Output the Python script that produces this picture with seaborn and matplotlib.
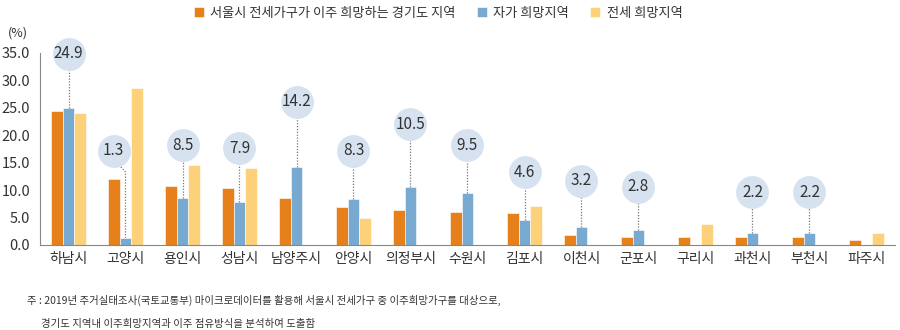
import numpy as np
import pandas as pd
import matplotlib
matplotlib.use("Agg")
import matplotlib.pyplot as plt
import seaborn as sns

# ---- data ----
cities = ["하남시", "고양시", "용인시", "성남시", "남양주시", "안양시", "의정부시", "수원시",
          "김포시", "이천시", "군포시", "구리시", "과천시", "부천시", "파주시"]
seoul_jeonse = [24.4, 12.0, 10.8, 10.4, 8.5, 7.0, 6.4, 6.0, 5.8, 1.8, 1.5, 1.4, 1.4, 1.4, 0.9]
own_wish = [24.9, 1.3, 8.5, 7.9, 14.2, 8.3, 10.5, 9.5, 4.6, 3.2, 2.8, np.nan, 2.2, 2.2, np.nan]
jeonse_wish = [24.0, 28.7, 14.6, 14.1, np.nan, 4.9, np.nan, np.nan, 7.1, np.nan, np.nan, 3.8, np.nan, np.nan, 2.2]
series_names = ["서울시 전세가구가 이주 희망하는 경기도 지역", "자가 희망지역", "전세 희망지역"]
yticks = [0, 5, 10, 15, 20, 25, 30, 35]
unit_label = "(%)"
note_lines = ["주 : 2019년 주거실태조사(국토교통부) 마이크로데이터를 활용해 서울시 전세가구 중 이주희망가구를 대상으로,",
              "경기도 지역내 이주희망지역과 이주 점유방식을 분석하여 도출함"]

# bubble label centre heights (layout, data units)
bubble_y = [34.9, 17.2, 18.2, 17.6, 26.1, 17.2, 22.0, 18.2, 13.3, 11.7, 10.6, np.nan, 9.6, 9.6, np.nan]

colors = ["#E5801A", "#78A9D0", "#FDD17A"]

sns.set_style("white")
plt.rcParams["font.family"] = ["Noto Sans CJK KR", "DejaVu Sans"]
plt.rcParams["font.weight"] = "light"

rows = []
for s_name, vals in zip(series_names, [seoul_jeonse, own_wish, jeonse_wish]):
    for c, v in zip(cities, vals):
        if not np.isnan(v):
            rows.append({"city": c, "series": s_name, "value": v})
df = pd.DataFrame(rows)

fig = plt.figure(figsize=(9, 3.3), dpi=100)
ax = fig.add_axes([40 / 900, 1 - 245 / 330, 855 / 900, 192 / 330])

sns.barplot(data=df, x="city", y="value", hue="series", order=cities, hue_order=series_names,
            palette=colors, width=0.63, saturation=1, errorbar=None, ax=ax,
            edgecolor="white", linewidth=0.4, zorder=2)

ax.set_ylim(0, 35)
ax.set_xlim(-0.5, len(cities) - 0.5)
ax.set_yticks(yticks)
ax.set_yticklabels([f"{t:.1f}" for t in yticks])
ax.set_xlabel("")
ax.set_ylabel("")

txt_col = "#333333"
ax.tick_params(axis="y", length=4, width=0.8, color="#888888", labelsize=10.5, labelcolor=txt_col, pad=3)
ax.set_xticks(range(len(cities)))
ax.set_xticklabels(cities)
ax.tick_params(axis="x", length=0, labelsize=10, labelcolor=txt_col, pad=5)
ax.set_xticks(np.arange(0.5, len(cities) - 0.5, 1), minor=True)
ax.tick_params(axis="x", which="minor", length=4, width=0.8, color="#888888")
for side in ["top", "right"]:
    ax.spines[side].set_visible(False)
for side in ["left", "bottom"]:
    ax.spines[side].set_color("#888888")
    ax.spines[side].set_linewidth(0.8)

fig.text(8 / 900, 1 - 33 / 330, unit_label, fontsize=9, color=txt_col, va="center", ha="left")

# bubbles with leader lines
bw = 0.63 / 3
for i, (v, by) in enumerate(zip(own_wish, bubble_y)):
    if np.isnan(v):
        continue
    if cities[i] == "고양시":
        bx = i - bw
        ax.plot([bx + 0.06, i, i], [by - 2.2, 13.3, v], color="#777777", lw=0.9,
                ls=(0, (1, 1.3)), zorder=3, clip_on=False)
    else:
        bx = i
        ax.plot([i, i], [v, by], color="#777777", lw=0.9, ls=(0, (1, 1.3)), zorder=3, clip_on=False)
    ax.scatter([bx], [by], s=560, color="#D6E2EF", zorder=4, clip_on=False, linewidths=0)
    ax.text(bx, by, f"{v:.1f}", ha="center", va="center", fontsize=11, color=txt_col, zorder=5)

# legend
sns.move_legend(ax, "upper center", bbox_to_anchor=(438 / 900, 1.0), bbox_transform=fig.transFigure,
                ncol=3, frameon=False, title=None, fontsize=9.5, handlelength=0.75, handleheight=0.75,
                handletextpad=0.5, columnspacing=1.6, borderaxespad=0.1)
for t in ax.get_legend().get_texts():
    t.set_color(txt_col)

fig.text(27 / 900, 1 - 300 / 330, note_lines[0], fontsize=7.5, color=txt_col, va="center", ha="left")
fig.text(41 / 900, 1 - 324 / 330, note_lines[1], fontsize=7.5, color=txt_col, va="center", ha="left")

fig.savefig("out.png", dpi=100)
